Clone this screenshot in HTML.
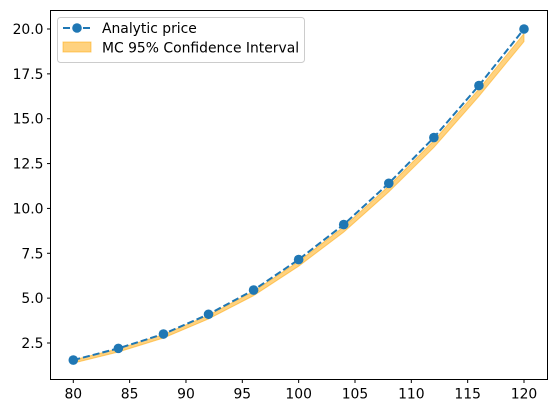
<!DOCTYPE html>
<html><head><meta charset="utf-8"><style>
body{margin:0;background:#fff;}
svg{display:block;font-family:"DejaVu Sans","Liberation Sans",sans-serif;}
</style></head><body>
<svg id="chart" width="556" height="413"></svg>
<script>
const strikes=[80,84,88,92,96,100,104,108,112,116,120];
const analytic=[1.55,2.2,3.0,4.1,5.45,7.15,9.1,11.4,13.95,16.85,20.0];
const ciUpper=[1.55,2.18,2.97,4.05,5.38,7.05,8.98,11.25,13.78,16.65,19.75];
const ciLower=[1.38,2.0,2.78,3.84,5.14,6.78,8.68,10.92,13.4,16.25,19.3];
const xTicks=[80,85,90,95,100,105,110,115,120];
const yTicks=[2.5,5.0,7.5,10.0,12.5,15.0,17.5,20.0];
const yTickLabels=["2.5","5.0","7.5","10.0","12.5","15.0","17.5","20.0"];

const L=50.5,R=547.5,T=10.5,B=379.5;
const xs=v=>73.3+(v-80)*(524-73.3)/40;
const ys=v=>343-(v-2.5)*(343-29)/17.5;
const svg=document.getElementById('chart');
const NS='http://www.w3.org/2000/svg';
function mk(tag,attrs,parent){const e=document.createElementNS(NS,tag);for(const k in attrs)e.setAttribute(k,attrs[k]);(parent||svg).appendChild(e);return e;}

let d='M'+strikes.map((s,i)=>xs(s)+','+ys(ciUpper[i])).join('L');
for(let i=strikes.length-1;i>=0;i--)d+='L'+xs(strikes[i])+','+ys(ciLower[i]);
d+='Z';
const band=mk('path',{d:d,fill:'#ffa500','fill-opacity':0.5,stroke:'#ffa500','stroke-opacity':0.5});



const line=mk('polyline',{points:strikes.map((s,i)=>xs(s)+','+ys(analytic[i])).join(' '),fill:'none',stroke:'#1f77b4','stroke-width':2,'stroke-dasharray':'7,3'});


strikes.forEach((s,i)=>{
  const c=mk('circle',{cx:xs(s),cy:ys(analytic[i]),r:4.8,fill:'#1f77b4'});
  
  
});

const fr=mk('rect',{x:L,y:T,width:R-L,height:B-T,fill:'none',stroke:'#000','stroke-width':1});



xTicks.forEach(t=>{
  const x=xs(t);
  mk('line',{x1:x,y1:B,x2:x,y2:B+3.5,stroke:'#000'});
  const tx=mk('text',{x:x,y:B+19,'text-anchor':'middle','font-size':13.9,fill:'#000'});
  tx.textContent=t;
  
  
});
yTicks.forEach((t,i)=>{
  const y=ys(t);
  mk('line',{x1:L-3.5,y1:y,x2:L,y2:y,stroke:'#000'});
  const tx=mk('text',{x:L-7,y:y+5,'text-anchor':'end','font-size':13.9,fill:'#000'});
  tx.textContent=yTickLabels[i];
  
  
});

const lg=mk('g',{});


mk('rect',{x:57.5,y:17.5,width:247,height:45,rx:3,fill:'#fff','fill-opacity':0.8,stroke:'#ccc'},lg);
mk('line',{x1:63,y1:28,x2:91,y2:28,stroke:'#1f77b4','stroke-width':2,'stroke-dasharray':'7,3'},lg);
mk('circle',{cx:77,cy:28,r:4.8,fill:'#1f77b4'},lg);
const t1=mk('text',{x:102,y:33,'font-size':13.9,fill:'#000'},lg);
t1.textContent='Analytic price';


mk('rect',{x:63,y:42,width:28,height:10,fill:'#ffa500','fill-opacity':0.5,stroke:'#ffa500','stroke-opacity':0.5},lg);
const t2=mk('text',{x:102,y:52.5,'font-size':13.9,fill:'#000'},lg);
t2.textContent='MC 95% Confidence Interval';


</script>
</body></html>
